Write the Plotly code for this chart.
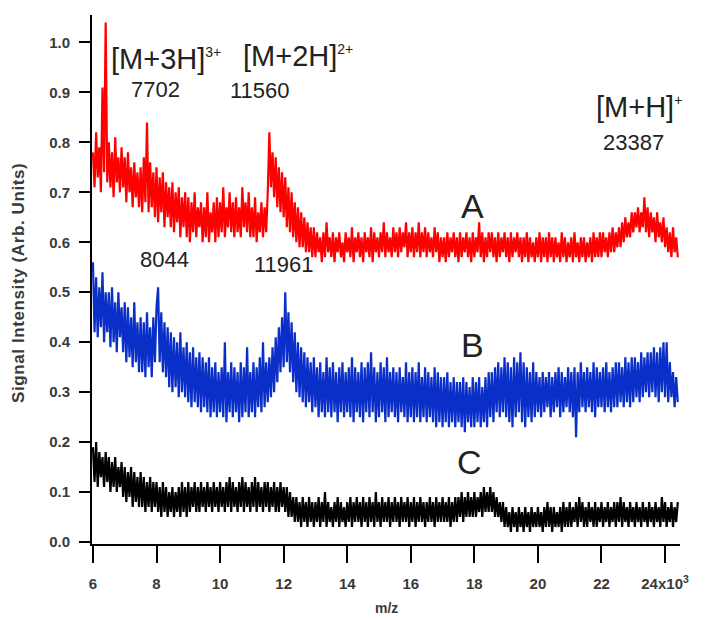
import plotly.graph_objects as go

# m/z sampling (in units of 10^3), start and step
mz_start = 6.0
mz_step = 0.05

# Spectrum A (red)
spec_A = [
    0.78, 0.71, 0.82, 0.73, 0.79, 0.70, 0.91, 0.74, 1.04, 0.72,
    0.80, 0.71, 0.78, 0.69, 0.81, 0.72, 0.77, 0.70, 0.79, 0.71,
    0.77, 0.68, 0.78, 0.70, 0.75, 0.67, 0.76, 0.69, 0.74, 0.67,
    0.75, 0.66, 0.77, 0.68, 0.84, 0.66, 0.76, 0.67, 0.74, 0.65,
    0.75, 0.64, 0.73, 0.66, 0.74, 0.63, 0.72, 0.65, 0.71, 0.63,
    0.72, 0.62, 0.70, 0.64, 0.71, 0.61, 0.69, 0.63, 0.70, 0.61,
    0.69, 0.60, 0.68, 0.62, 0.70, 0.61, 0.67, 0.63, 0.68, 0.60,
    0.67, 0.61, 0.70, 0.60, 0.66, 0.62, 0.68, 0.60, 0.69, 0.61,
    0.68, 0.62, 0.71, 0.61, 0.67, 0.63, 0.70, 0.62, 0.68, 0.61,
    0.69, 0.62, 0.67, 0.61, 0.71, 0.63, 0.68, 0.62, 0.70, 0.61,
    0.67, 0.61, 0.69, 0.60, 0.66, 0.62, 0.68, 0.61, 0.67, 0.62,
    0.70, 0.82, 0.71, 0.78, 0.69, 0.77, 0.67, 0.75, 0.66, 0.74,
    0.65, 0.73, 0.63, 0.71, 0.62, 0.70, 0.61, 0.68, 0.60, 0.67,
    0.59, 0.66, 0.59, 0.65, 0.58, 0.64, 0.58, 0.63, 0.57, 0.63,
    0.57, 0.62, 0.58, 0.61, 0.56, 0.62, 0.57, 0.64, 0.58, 0.61,
    0.57, 0.62, 0.56, 0.61, 0.58, 0.62, 0.57, 0.60, 0.56, 0.62,
    0.58, 0.61, 0.57, 0.63, 0.56, 0.61, 0.58, 0.62, 0.57, 0.61,
    0.56, 0.62, 0.58, 0.61, 0.57, 0.63, 0.56, 0.62, 0.58, 0.61,
    0.57, 0.62, 0.58, 0.64, 0.57, 0.62, 0.58, 0.61, 0.57, 0.63,
    0.58, 0.62, 0.57, 0.63, 0.58, 0.62, 0.59, 0.64, 0.57, 0.62,
    0.58, 0.63, 0.57, 0.62, 0.58, 0.64, 0.57, 0.62, 0.58, 0.63,
    0.57, 0.62, 0.58, 0.61, 0.57, 0.63, 0.58, 0.62, 0.56, 0.61,
    0.57, 0.61, 0.56, 0.62, 0.57, 0.61, 0.58, 0.62, 0.57, 0.61,
    0.56, 0.62, 0.57, 0.61, 0.58, 0.62, 0.57, 0.61, 0.56, 0.62,
    0.57, 0.61, 0.58, 0.64, 0.57, 0.62, 0.56, 0.61, 0.57, 0.62,
    0.58, 0.62, 0.57, 0.61, 0.56, 0.62, 0.57, 0.61, 0.58, 0.62,
    0.57, 0.61, 0.56, 0.62, 0.57, 0.61, 0.58, 0.62, 0.57, 0.61,
    0.56, 0.61, 0.57, 0.62, 0.56, 0.61, 0.57, 0.60, 0.56, 0.61,
    0.57, 0.62, 0.56, 0.61, 0.57, 0.61, 0.56, 0.62, 0.57, 0.61,
    0.56, 0.61, 0.57, 0.60, 0.56, 0.62, 0.57, 0.61, 0.56, 0.60,
    0.57, 0.61, 0.56, 0.62, 0.57, 0.60, 0.56, 0.61, 0.57, 0.61,
    0.56, 0.60, 0.57, 0.61, 0.56, 0.62, 0.57, 0.61, 0.57, 0.62,
    0.57, 0.62, 0.58, 0.61, 0.57, 0.62, 0.58, 0.63, 0.58, 0.62,
    0.59, 0.63, 0.59, 0.64, 0.60, 0.65, 0.61, 0.64, 0.61, 0.66,
    0.62, 0.66, 0.63, 0.67, 0.62, 0.66, 0.63, 0.69, 0.62, 0.67,
    0.61, 0.66, 0.62, 0.65, 0.60, 0.66, 0.61, 0.64, 0.60, 0.65,
    0.59, 0.63, 0.58, 0.62, 0.57, 0.63, 0.58, 0.61, 0.57,
]

# Spectrum B (blue)
spec_B = [
    0.56, 0.42, 0.53, 0.41, 0.51, 0.43, 0.54, 0.40, 0.50, 0.42,
    0.50, 0.39, 0.51, 0.40, 0.48, 0.38, 0.50, 0.41, 0.47, 0.38,
    0.48, 0.36, 0.47, 0.37, 0.45, 0.35, 0.48, 0.36, 0.44, 0.34,
    0.45, 0.34, 0.44, 0.33, 0.46, 0.35, 0.43, 0.33, 0.45, 0.36,
    0.47, 0.51, 0.36, 0.46, 0.34, 0.44, 0.33, 0.43, 0.31, 0.42,
    0.30, 0.41, 0.31, 0.40, 0.29, 0.42, 0.30, 0.39, 0.29, 0.40,
    0.28, 0.38, 0.27, 0.39, 0.28, 0.37, 0.27, 0.38, 0.26, 0.37,
    0.27, 0.36, 0.26, 0.37, 0.25, 0.35, 0.26, 0.36, 0.25, 0.34,
    0.26, 0.35, 0.25, 0.40, 0.24, 0.34, 0.26, 0.36, 0.25, 0.35,
    0.26, 0.34, 0.24, 0.36, 0.25, 0.35, 0.26, 0.39, 0.25, 0.34,
    0.26, 0.36, 0.25, 0.35, 0.27, 0.37, 0.26, 0.40, 0.27, 0.36,
    0.28, 0.37, 0.29, 0.39, 0.30, 0.41, 0.32, 0.43, 0.34, 0.45,
    0.35, 0.50, 0.36, 0.46, 0.34, 0.44, 0.32, 0.42, 0.30, 0.40,
    0.29, 0.39, 0.28, 0.38, 0.27, 0.37, 0.28, 0.36, 0.26, 0.37,
    0.27, 0.35, 0.25, 0.36, 0.26, 0.34, 0.25, 0.37, 0.26, 0.35,
    0.25, 0.36, 0.26, 0.34, 0.24, 0.35, 0.26, 0.36, 0.25, 0.34,
    0.26, 0.35, 0.25, 0.37, 0.24, 0.35, 0.26, 0.34, 0.25, 0.36,
    0.24, 0.35, 0.26, 0.36, 0.25, 0.38, 0.26, 0.35, 0.24, 0.34,
    0.25, 0.36, 0.26, 0.35, 0.24, 0.37, 0.25, 0.34, 0.26, 0.35,
    0.25, 0.34, 0.24, 0.35, 0.26, 0.33, 0.25, 0.36, 0.24, 0.34,
    0.25, 0.35, 0.24, 0.34, 0.25, 0.36, 0.24, 0.33, 0.25, 0.35,
    0.24, 0.34, 0.25, 0.33, 0.24, 0.35, 0.23, 0.34, 0.24, 0.33,
    0.23, 0.33, 0.24, 0.34, 0.23, 0.32, 0.24, 0.33, 0.23, 0.32,
    0.24, 0.32, 0.23, 0.33, 0.22, 0.32, 0.24, 0.31, 0.23, 0.33,
    0.23, 0.32, 0.24, 0.33, 0.23, 0.31, 0.24, 0.33, 0.23, 0.34,
    0.25, 0.34, 0.24, 0.35, 0.26, 0.36, 0.25, 0.35, 0.26, 0.37,
    0.25, 0.36, 0.24, 0.35, 0.23, 0.37, 0.25, 0.36, 0.26, 0.38,
    0.24, 0.36, 0.23, 0.35, 0.25, 0.34, 0.24, 0.36, 0.25, 0.34,
    0.26, 0.33, 0.25, 0.34, 0.26, 0.33, 0.27, 0.34, 0.25, 0.33,
    0.26, 0.34, 0.27, 0.35, 0.25, 0.34, 0.26, 0.33, 0.27, 0.35,
    0.26, 0.34, 0.25, 0.35, 0.21, 0.34, 0.26, 0.36, 0.27, 0.34,
    0.26, 0.35, 0.27, 0.34, 0.26, 0.36, 0.25, 0.35, 0.27, 0.34,
    0.27, 0.35, 0.26, 0.36, 0.27, 0.34, 0.26, 0.35, 0.27, 0.36,
    0.27, 0.36, 0.28, 0.35, 0.27, 0.37, 0.28, 0.36, 0.27, 0.37,
    0.28, 0.37, 0.29, 0.36, 0.28, 0.38, 0.29, 0.37, 0.30, 0.38,
    0.29, 0.38, 0.30, 0.39, 0.29, 0.38, 0.28, 0.39, 0.30, 0.40,
    0.29, 0.40, 0.28, 0.36, 0.29, 0.34, 0.27, 0.33, 0.28,
]

# Spectrum C (black)
spec_C = [
    0.19, 0.12, 0.20, 0.11, 0.18, 0.13, 0.17, 0.11, 0.18, 0.12,
    0.17, 0.10, 0.16, 0.11, 0.17, 0.10, 0.15, 0.11, 0.16, 0.09,
    0.15, 0.08, 0.14, 0.09, 0.15, 0.07, 0.14, 0.08, 0.13, 0.07,
    0.14, 0.07, 0.13, 0.06, 0.12, 0.07, 0.13, 0.06, 0.12, 0.07,
    0.12, 0.06, 0.11, 0.05, 0.12, 0.06, 0.11, 0.05, 0.10, 0.06,
    0.11, 0.05, 0.10, 0.06, 0.11, 0.05, 0.12, 0.06, 0.11, 0.05,
    0.12, 0.06, 0.11, 0.07, 0.12, 0.06, 0.11, 0.06, 0.12, 0.07,
    0.11, 0.06, 0.12, 0.07, 0.11, 0.06, 0.12, 0.07, 0.11, 0.06,
    0.12, 0.07, 0.11, 0.06, 0.12, 0.07, 0.13, 0.06, 0.12, 0.07,
    0.11, 0.06, 0.12, 0.07, 0.13, 0.06, 0.12, 0.07, 0.11, 0.06,
    0.12, 0.07, 0.13, 0.06, 0.12, 0.07, 0.11, 0.06, 0.12, 0.07,
    0.12, 0.06, 0.11, 0.07, 0.12, 0.06, 0.11, 0.06, 0.12, 0.07,
    0.11, 0.06, 0.11, 0.05, 0.10, 0.05, 0.09, 0.04, 0.09, 0.04,
    0.08, 0.03, 0.09, 0.04, 0.08, 0.03, 0.09, 0.04, 0.08, 0.03,
    0.08, 0.04, 0.09, 0.03, 0.08, 0.04, 0.10, 0.03, 0.08, 0.04,
    0.07, 0.03, 0.08, 0.04, 0.09, 0.03, 0.08, 0.04, 0.07, 0.03,
    0.08, 0.04, 0.09, 0.03, 0.08, 0.04, 0.09, 0.04, 0.08, 0.03,
    0.09, 0.04, 0.08, 0.03, 0.09, 0.04, 0.08, 0.03, 0.10, 0.04,
    0.08, 0.03, 0.09, 0.04, 0.08, 0.04, 0.09, 0.03, 0.08, 0.04,
    0.09, 0.04, 0.08, 0.03, 0.09, 0.04, 0.08, 0.04, 0.09, 0.03,
    0.08, 0.04, 0.09, 0.03, 0.08, 0.04, 0.09, 0.04, 0.08, 0.03,
    0.08, 0.04, 0.09, 0.04, 0.08, 0.03, 0.09, 0.04, 0.08, 0.04,
    0.09, 0.04, 0.08, 0.04, 0.09, 0.03, 0.08, 0.04, 0.09, 0.04,
    0.09, 0.05, 0.10, 0.04, 0.09, 0.05, 0.10, 0.05, 0.09, 0.05,
    0.10, 0.05, 0.09, 0.06, 0.10, 0.05, 0.11, 0.06, 0.10, 0.06,
    0.11, 0.06, 0.10, 0.05, 0.09, 0.05, 0.08, 0.04, 0.08, 0.03,
    0.07, 0.03, 0.06, 0.02, 0.07, 0.03, 0.06, 0.02, 0.07, 0.03,
    0.06, 0.02, 0.07, 0.03, 0.06, 0.02, 0.07, 0.03, 0.06, 0.03,
    0.07, 0.03, 0.06, 0.02, 0.07, 0.03, 0.08, 0.03, 0.07, 0.02,
    0.07, 0.03, 0.06, 0.03, 0.07, 0.02, 0.08, 0.03, 0.07, 0.03,
    0.08, 0.03, 0.07, 0.04, 0.08, 0.03, 0.09, 0.04, 0.08, 0.03,
    0.07, 0.03, 0.08, 0.04, 0.07, 0.03, 0.08, 0.03, 0.07, 0.04,
    0.08, 0.03, 0.07, 0.04, 0.08, 0.03, 0.07, 0.04, 0.08, 0.03,
    0.08, 0.04, 0.09, 0.03, 0.08, 0.04, 0.07, 0.03, 0.08, 0.04,
    0.07, 0.03, 0.08, 0.04, 0.07, 0.03, 0.08, 0.04, 0.07, 0.03,
    0.08, 0.04, 0.07, 0.03, 0.08, 0.04, 0.07, 0.03, 0.09, 0.04,
    0.08, 0.03, 0.07, 0.04, 0.08, 0.03, 0.07, 0.04, 0.08,
]

x_tick_vals = [6, 8, 10, 12, 14, 16, 18, 20, 22, 24]
x_tick_text = ["6", "8", "10", "12", "14", "16", "18", "20", "22", "24x10<sup>3</sup>"]
y_tick_vals = [0.0, 0.1, 0.2, 0.3, 0.4, 0.5, 0.6, 0.7, 0.8, 0.9, 1.0]

# annotation texts and their anchor points (m/z, intensity)
ion_labels = ["[M+3H]<sup><span style='font-size:14px'>3+</span></sup>",
              "[M+2H]<sup><span style='font-size:14px'>2+</span></sup>",
              "[M+H]<sup><span style='font-size:14px'>+</span></sup>"]
ion_x = [6.50, 10.66, 21.77]
ion_y = [0.967, 0.972, 0.870]
mass_labels = ["7702", "11560", "23387", "8044", "11961"]
mass_x = [7.98, 11.26, 23.02, 8.24, 12.01]
mass_y = [0.906, 0.903, 0.799, 0.565, 0.555]
trace_labels = ["A", "B", "C"]
trace_label_x = [17.93, 17.93, 17.86]
trace_label_y = [0.673, 0.394, 0.160]

FONT = "Liberation Sans, Arial, sans-serif"
TEXTC = "#222222"
AXC = "#3a3a3a"

fig = go.Figure()
for spec, color in [(spec_A, "#ff0000"), (spec_B, "#0a2fc8"), (spec_C, "#000000")]:
    fig.add_trace(go.Scatter(y=spec, x0=mz_start, dx=mz_step, mode="lines",
                             line=dict(color=color, width=2.2), showlegend=False,
                             hoverinfo="skip"))

W, H = 711, 619
ML, MR, MT, MB = 92, 31, 15, 75
pw, ph = W - ML - MR, H - MT - MB

annotations = []
for t, x, y in zip(ion_labels, ion_x, ion_y):
    annotations.append(dict(text=t, x=x, y=y, xref="x", yref="y", xanchor="left",
                            yanchor="middle", showarrow=False,
                            font=dict(family=FONT, size=29, color=TEXTC)))
for t, x, y in zip(mass_labels, mass_x, mass_y):
    annotations.append(dict(text=t, x=x, y=y, xref="x", yref="y", xanchor="center",
                            yanchor="middle", showarrow=False,
                            font=dict(family=FONT, size=22, color=TEXTC)))
for t, x, y in zip(trace_labels, trace_label_x, trace_label_y):
    annotations.append(dict(text=t, x=x, y=y, xref="x", yref="y", xanchor="center",
                            yanchor="middle", showarrow=False,
                            font=dict(family=FONT, size=34, color=TEXTC)))
annotations.append(dict(text="<span style='letter-spacing:0.6px'>Signal Intensity (Arb. Units)</span>",
                        textangle=-90,
                        x=(18 - ML) / pw, y=(H - MB - 283) / ph,
                        xref="paper", yref="paper", xanchor="center", yanchor="middle",
                        showarrow=False,
                        font=dict(family=FONT, size=17, color=AXC, weight="bold")))
annotations.append(dict(text="m/z", x=0.5, y=(H - MB - 608) / ph, xref="paper", yref="paper",
                        xanchor="center", yanchor="middle", showarrow=False,
                        font=dict(family=FONT, size=14, color=AXC, weight="bold")))

fig.update_layout(
    width=W, height=H,
    margin=dict(l=ML, r=MR, t=MT, b=MB),
    paper_bgcolor="white", plot_bgcolor="white",
    annotations=annotations,
    xaxis=dict(range=[5.97, 24.47], tickvals=x_tick_vals, ticktext=x_tick_text,
               showgrid=False, zeroline=False, showline=True, linecolor="black",
               linewidth=2, ticks="outside", ticklen=17, tickwidth=2, tickcolor="black",
               ticklabelstandoff=8,
               tickfont=dict(family=FONT, size=15, color=AXC, weight="bold")),
    yaxis=dict(range=[-0.004, 1.055], tickvals=y_tick_vals, tickformat=".1f",
               showgrid=False, zeroline=False, showline=True, linecolor="black",
               linewidth=2, ticks="outside", ticklen=11, tickwidth=2, tickcolor="black",
               ticklabelstandoff=6,
               tickfont=dict(family=FONT, size=15, color=AXC, weight="bold")),
)

fig.write_html("out.html", config={"displayModeBar": False},
               post_script="document.body.style.margin='0';")
